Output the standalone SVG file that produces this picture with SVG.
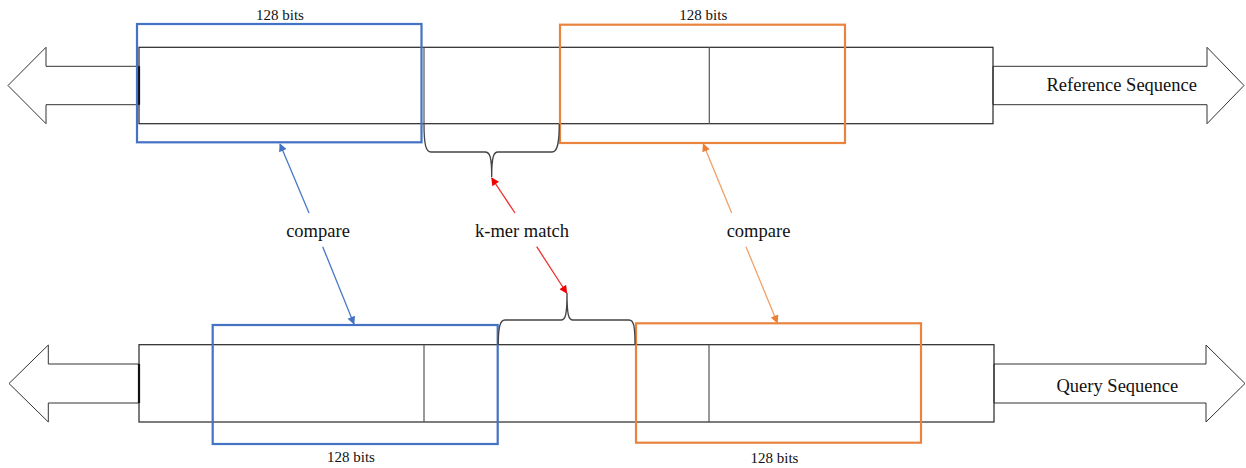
<svg xmlns="http://www.w3.org/2000/svg" width="1246" height="468" viewBox="0 0 1246 468">
  <style>
    .band { fill: none; stroke: #262626; stroke-width: 1.2; }
    .div { stroke: #555; stroke-width: 1.2; }
    .dir { fill: #fff; stroke: #333; stroke-width: 1; }
    .join { stroke: #111; stroke-width: 2.2; }
    .win-blue { fill: none; stroke: #4472C4; stroke-width: 2.2; }
    .win-orange { fill: none; stroke: #E8843E; stroke-width: 2.2; }
    .brace { fill: none; stroke: #444; stroke-width: 1.3; }
    .lbl { font-family: "Liberation Serif", "Times New Roman", serif; fill: #111; }
    .bits { font-size: 15px; text-anchor: middle; }
    .mid { font-size: 18.5px; text-anchor: middle; }
    .seq { font-size: 18.5px; }
    .c-blue { stroke: #4A78C8; stroke-width: 1.3; fill: none; marker-end: url(#ah-blue); }
    .c-red { stroke: #F03030; stroke-width: 1.3; fill: none; marker-end: url(#ah-red); }
    .c-orange { stroke: #F0A068; stroke-width: 1.3; fill: none; marker-end: url(#ah-orange); }
  </style>
  <defs>
    <marker id="ah-blue" viewBox="0 0 10 10" refX="9" refY="5" markerWidth="9" markerHeight="8" markerUnits="userSpaceOnUse" orient="auto">
      <path d="M0,0 L10,5 L0,10 z" fill="#4472C4"/>
    </marker>
    <marker id="ah-red" viewBox="0 0 10 10" refX="9" refY="5" markerWidth="9" markerHeight="8" markerUnits="userSpaceOnUse" orient="auto">
      <path d="M0,0 L10,5 L0,10 z" fill="#F00000"/>
    </marker>
    <marker id="ah-orange" viewBox="0 0 10 10" refX="9" refY="5" markerWidth="9" markerHeight="8" markerUnits="userSpaceOnUse" orient="auto">
      <path d="M0,0 L10,5 L0,10 z" fill="#ED7D31"/>
    </marker>
  </defs>

  <!-- Reference sequence track -->
  <g id="reference-sequence">
    <polygon class="dir" points="139,66.3 46,66.3 46,47.3 8,85.5 46,123.7 46,104.7 139,104.7"/>
    <polygon class="dir" points="993,66.3 1207,66.3 1207,47.3 1244,85.5 1207,123.7 1207,104.7 993,104.7"/>
    <rect class="band" x="139" y="47.3" width="854" height="76.4"/>
    <line class="join" x1="139" y1="66.3" x2="139" y2="104.7"/>
    <line class="div" x1="424" y1="47.3" x2="424" y2="123.7"/>
    <line class="div" x1="709.3" y1="47.3" x2="709.3" y2="123.7"/>
    <text class="lbl seq" x="1046.5" y="90.5">Reference Sequence</text>
  </g>

  <!-- Query sequence track -->
  <g id="query-sequence">
    <polygon class="dir" points="139,364 48.3,364 48.3,345 9,383.5 48.3,422 48.3,403 139,403"/>
    <polygon class="dir" points="994,364 1206,364 1206,345 1245,383.5 1206,422 1206,403 994,403"/>
    <rect class="band" x="139" y="344.7" width="855" height="77.3"/>
    <line class="join" x1="139" y1="364" x2="139" y2="403"/>
    <line class="div" x1="424" y1="344.7" x2="424" y2="422"/>
    <line class="div" x1="709" y1="344.7" x2="709" y2="422"/>
    <text class="lbl seq" x="1056.5" y="391.5">Query Sequence</text>
  </g>

  <!-- 128-bit windows -->
  <g id="ref-window-left">
    <rect class="win-blue" x="137" y="24" width="284.5" height="118.3"/>
    <text class="lbl bits" x="280" y="20">128 bits</text>
  </g>
  <g id="ref-window-right">
    <rect class="win-orange" x="560" y="24.7" width="285" height="118.3"/>
    <text class="lbl bits" x="703.3" y="20">128 bits</text>
  </g>
  <g id="query-window-left">
    <rect class="win-blue" x="212.7" y="325" width="285" height="119"/>
    <text class="lbl bits" x="351" y="462">128 bits</text>
  </g>
  <g id="query-window-right">
    <rect class="win-orange" x="636" y="323.3" width="285" height="119.4"/>
    <text class="lbl bits" x="774.5" y="463">128 bits</text>
  </g>

  <!-- k-mer braces -->
  <g id="ref-kmer">
    <path class="brace" d="M424,124 C424,145 426,152 431,152 L485,152 C490,152 491.7,157 491.7,177 C491.7,157 493.5,152 498,152 L552,152 C557,152 559.3,145 559.3,124"/>
  </g>
  <g id="query-kmer">
    <path class="brace" d="M498.3,345 C498.3,327 500,320 505,320 L561,320 C565.5,320 567,315 567,293 C567,315 568.5,320 573,320 L629,320 C634,320 635,327 635,345"/>
  </g>

  <!-- Labels between tracks -->
  <g id="label-compare-left">
    <text class="lbl mid" x="318" y="237">compare</text>
  </g>
  <g id="label-kmer-match">
    <text class="lbl mid" x="522" y="237">k-mer match</text>
  </g>
  <g id="label-compare-right">
    <text class="lbl mid" x="758.5" y="237">compare</text>
  </g>

  <!-- Connectors -->
  <g id="connectors">
    <line class="c-blue" x1="309" y1="213" x2="280" y2="144"/>
    <line class="c-blue" x1="322.7" y1="246.7" x2="354" y2="324"/>
    <line class="c-red" x1="515" y1="213" x2="491.7" y2="178"/>
    <line class="c-red" x1="536.7" y1="246.7" x2="566.7" y2="293"/>
    <line class="c-orange" x1="731.7" y1="213" x2="703.3" y2="144"/>
    <line class="c-orange" x1="746" y1="246.7" x2="777.3" y2="322.7"/>
  </g>
</svg>
